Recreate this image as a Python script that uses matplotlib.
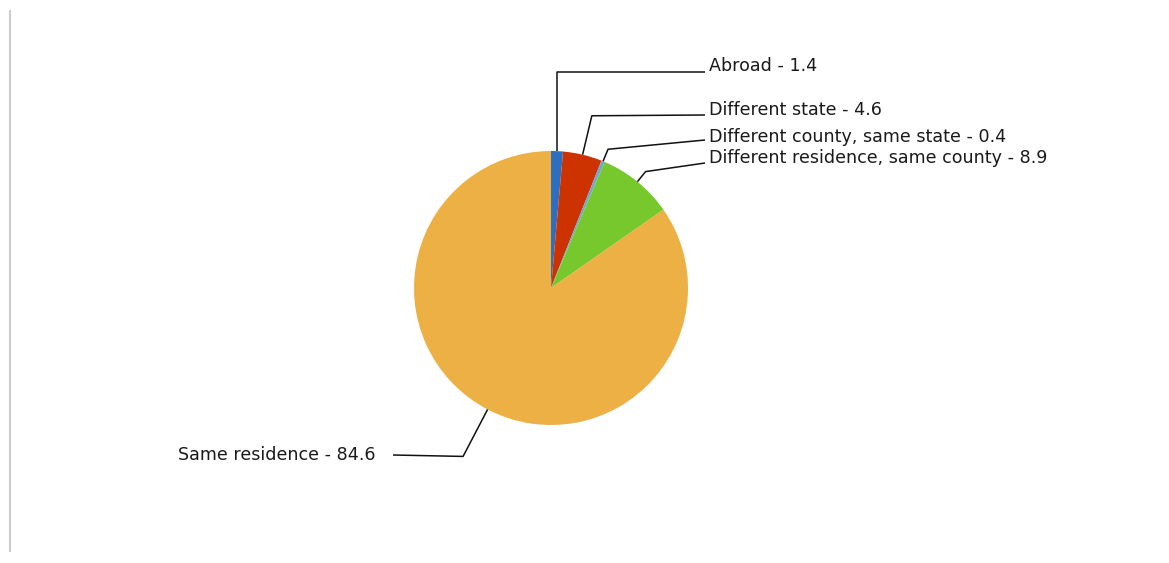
import numpy as np
import matplotlib
matplotlib.use("Agg")
import matplotlib.pyplot as plt

# Data
categories = ["Abroad", "Different state", "Different county, same state",
              "Different residence, same county", "Same residence"]
values = [1.4, 4.6, 0.4, 8.9, 84.6]
colors = ["#2E6EC0", "#CC3300", "#6FA8D0", "#77C82D", "#EDB045"]

W, H = 1169, 563
fig = plt.figure(figsize=(W / 100, H / 100), dpi=100)
ax = fig.add_axes([0, 0, 1, 1])

def Y(y):
    return H - y

cx, cy, R = 551, 288, 137
wedges, _ = ax.pie(values, colors=colors, startangle=90, counterclock=False,
                   center=(cx, Y(cy)), radius=R, frame=True,
                   wedgeprops=dict(linewidth=0))
ax.set_xlim(0, W)
ax.set_ylim(0, H)
ax.set_aspect("auto")
ax.axis("off")

# label layout: (elbow radius, line end x, line end y, text x, text y, ha)
layout = [
    (216, 705, 72, 709, 71, "left"),
    (177, 705, 115, 709, 115, "left"),
    (150, 705, 140, 709, 142, "left"),
    (150, 705, 163, 709, 163, "left"),
    (190, 393, 455, 375, 460, "right"),
]

for w, cat, val, (re, lx, ly, tx, ty, ha) in zip(wedges, categories, values, layout):
    ang = np.deg2rad((w.theta1 + w.theta2) / 2)
    x0, y0 = cx + R * np.cos(ang), Y(cy) + R * np.sin(ang)
    if cat == "Abroad":
        x1, y1 = x0, Y(ly)
    else:
        x1, y1 = cx + re * np.cos(ang), Y(cy) + re * np.sin(ang)
    ax.plot([x0, x1, lx], [y0, y1, Y(ly)], color="#111111", lw=1.1,
            solid_capstyle="butt")
    ax.text(tx, Y(ty), f"{cat} - {val}", ha=ha, va="baseline",
            fontsize=12.6, family="DejaVu Sans", color="#1a1a1a")

# left border line
ax.plot([9.5, 9.5], [Y(11), Y(551)], color="#cccccc", lw=1.5)

fig.savefig("out.png", dpi=100, facecolor="white")
